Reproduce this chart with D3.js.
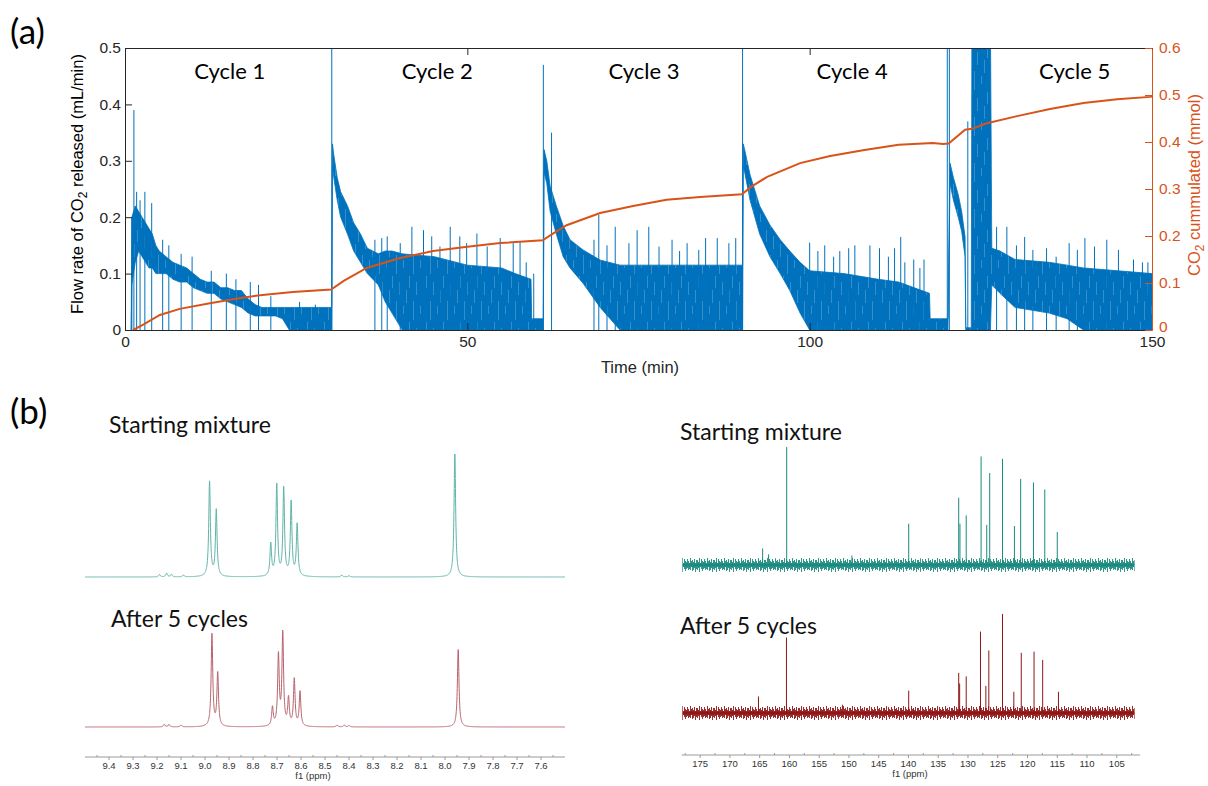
<!DOCTYPE html>
<html>
<head>
<meta charset="utf-8">
<script src="https://cdn.jsdelivr.net/npm/d3@7"></script>
<style>
  body { margin: 0; background: #fff; }
  svg { display: block; }
</style>
</head>
<body>
<svg id="fig" width="1208" height="786"></svg>
<script>
// ---------- (a) flow rate / cumulated CO2 ----------
const cycleNames = ['Cycle 1', 'Cycle 2', 'Cycle 3', 'Cycle 4', 'Cycle 5'];
const cycleLabelT = [15.3, 45.6, 75.8, 106.2, 138.7];
const timeTicks = [0, 50, 100, 150];
const flowTicks = [0, 0.1, 0.2, 0.3, 0.4, 0.5];
const cumTicks = [0, 0.1, 0.2, 0.3, 0.4, 0.5, 0.6];

// blue flow rate: noisy band read as low / high envelope
const flowT  = [0.9, 1.0, 1.5, 2.0, 2.5, 3.0, 3.5, 4.0, 4.5, 5, 6, 7, 8, 9, 10, 11, 12, 13, 14, 15, 16, 17, 18, 19, 20, 22, 23, 24, 26, 28, 30.1,
                30.2, 30.3, 30.5, 31, 31.5, 32.5, 33.4, 34.4, 35.4, 37, 38, 39, 40.5, 45.2, 50, 55, 57, 59.3, 59.4, 61.0,
                61.1, 61.2, 61.6, 62.1, 63, 64, 65, 66.9, 69.4, 72.3, 80, 90.1,
                90.2, 90.3, 90.5, 91.3, 92.7, 94.2, 95.7, 97.1, 98.6, 100, 105, 110, 113, 117.5, 117.6, 120.1,
                120.2, 120.5, 121, 121.7, 122.2, 122.7, 122.8, 123.6, 123.7, 126.4, 126.6, 127.8, 130, 135, 137.6, 140, 145, 150];
const flowLo = [0, 0.08, 0.12, 0.14, 0.13, 0.12, 0.11, 0.11, 0.1, 0.1, 0.1, 0.09, 0.085, 0.085, 0.075, 0.07, 0.065, 0.065, 0.055, 0.05, 0.045, 0.04, 0.03, 0.025, 0.025, 0.025, 0.02, 0, 0, 0, 0,
                0, 0.29, 0.27, 0.23, 0.2, 0.17, 0.14, 0.12, 0.1, 0.08, 0.05, 0.03, 0, 0, 0, 0, 0, 0, 0, 0,
                0, 0.28, 0.26, 0.21, 0.17, 0.13, 0.11, 0.083, 0.04, 0, 0, 0,
                0, 0.29, 0.28, 0.23, 0.17, 0.13, 0.1, 0.07, 0.03, 0, 0, 0, 0, 0, 0, 0,
                0, 0.26, 0.23, 0.2, 0.175, 0.13, 0, 0, 0, 0, 0.08, 0.065, 0.04, 0.03, 0.02, 0, 0, 0];
const flowHi = [0, 0.2, 0.22, 0.21, 0.2, 0.19, 0.18, 0.17, 0.15, 0.14, 0.13, 0.12, 0.115, 0.11, 0.1, 0.09, 0.085, 0.085, 0.075, 0.075, 0.07, 0.07, 0.055, 0.045, 0.04, 0.04, 0.04, 0.04, 0.04, 0.04, 0.04,
                0.04, 0.33, 0.31, 0.27, 0.245, 0.22, 0.19, 0.17, 0.145, 0.135, 0.14, 0.14, 0.135, 0.13, 0.115, 0.11, 0.1, 0.09, 0.02, 0.02,
                0.02, 0.32, 0.3, 0.255, 0.22, 0.185, 0.16, 0.142, 0.124, 0.115, 0.115, 0.115,
                0.115, 0.33, 0.32, 0.275, 0.22, 0.186, 0.16, 0.14, 0.12, 0.105, 0.1, 0.09, 0.085, 0.065, 0.02, 0.02,
                0.02, 0.296, 0.27, 0.24, 0.21, 0.165, 0.004, 0.004, 0.55, 0.55, 0.145, 0.14, 0.125, 0.12, 0.115, 0.11, 0.105, 0.1];
// isolated spikes of the flow trace
const spikeT = [1.0, 1.3, 1.7, 2.2, 2.9, 3.9, 5.5, 6.4, 8.2, 9.8, 12.6, 14.8, 16.2, 18.3, 19.5, 21.3, 25.5, 27.8,
                30.2, 36.5, 37.5, 38.3, 40.2, 41.9, 43.6, 44.8, 46, 47.5, 48.9, 49.9, 51.4, 52.9, 54.8, 56.7, 57.7, 58.6, 59.7,
                61.1, 62.3, 68.5, 69.2, 70.4, 71.6, 73.6, 74.8, 76.5, 78, 79.9, 81.0, 82.1, 83.8, 84.8, 86.5, 88.2, 89.2,
                90.2, 100, 101.2, 102.2, 103.5, 104.4, 105.7, 106.6, 108.8, 110.2, 111.5, 112.4, 113.3, 113.9, 115.2, 116.1, 116.7,
                120.1, 120.4, 123.1, 127.3, 128.8, 130.2, 131.4, 132.6, 134.6, 136.0, 137.9, 139.1, 140.2, 141.6, 143.4, 145.1, 147.3, 148.6, 149.4];
const spikeV = [0.2, 0.39, 0.245, 0.23, 0.245, 0.225, 0.16, 0.15, 0.135, 0.13, 0.105, 0.1, 0.09, 0.085, 0.08, 0.06, 0.05, 0.045,
                0.55, 0.16, 0.163, 0.166, 0.154, 0.183, 0.177, 0.166, 0.148, 0.183, 0.166, 0.154, 0.171, 0.148, 0.163, 0.154, 0.157, 0.12, 0.1,
                0.47, 0.35, 0.16, 0.204, 0.15, 0.183, 0.154, 0.177, 0.183, 0.148, 0.16, 0.14, 0.154, 0.142, 0.163, 0.163, 0.154, 0.163,
                0.55, 0.155, 0.14, 0.15, 0.13, 0.14, 0.145, 0.15, 0.15, 0.145, 0.13, 0.145, 0.165, 0.12, 0.125, 0.11, 0.125,
                0.55, 0.55, 0.37, 0.183, 0.183, 0.15, 0.165, 0.142, 0.145, 0.13, 0.154, 0.142, 0.163, 0.148, 0.16, 0.142, 0.125, 0.12, 0.12];

// orange cumulated CO2 (mmol)
const cumT = [1.2, 2.6, 5.1, 8, 12.4, 16, 19.7, 24.5, 30.1, 32, 35.3, 40.2, 45, 50, 54.8, 61, 62.5, 64.5, 69.4, 74.2, 79.1, 84, 90.1,
              91.5, 93.8, 98.6, 103, 108, 113, 118, 119.5, 120.3, 122.7, 123.7, 125.9, 130.3, 135.1, 140, 144.9, 149.7, 150];
const cumV = [0, 0.011, 0.032, 0.045, 0.057, 0.066, 0.074, 0.081, 0.086, 0.105, 0.132, 0.153, 0.168, 0.177, 0.185, 0.191, 0.205, 0.223, 0.249, 0.264, 0.277, 0.283, 0.289,
              0.305, 0.326, 0.355, 0.37, 0.383, 0.394, 0.398, 0.396, 0.397, 0.426, 0.428, 0.44, 0.455, 0.47, 0.483, 0.491, 0.496, 0.497];

// ---------- (b) NMR spectra ----------
const hTicks = [9.4, 9.3, 9.2, 9.1, 9.0, 8.9, 8.8, 8.7, 8.6, 8.5, 8.4, 8.3, 8.2, 8.1, 8.0, 7.9, 7.8, 7.7, 7.6];
const cTicks = [175, 170, 165, 160, 155, 150, 145, 140, 135, 130, 125, 120, 115, 110, 105];

// 1H peaks: ppm and relative intensity
const hStartPpm = [9.19, 9.16, 9.14, 9.09, 8.981, 8.953, 8.726, 8.701, 8.672, 8.641, 8.616, 8.43, 8.40, 7.959];
const hStartInt = [2, 3, 2, 1.5, 77, 54, 26, 74, 71, 60, 42, 1.5, 1, 100];
const hAfterPpm = [9.17, 9.15, 9.10, 8.971, 8.947, 8.719, 8.694, 8.676, 8.652, 8.628, 8.604, 8.45, 8.42, 8.40, 7.945];
const hAfterInt = [2, 2, 1.5, 75, 43, 15, 57, 75, 22, 38, 28, 1.5, 1.5, 1.2, 63];

// 13C lines: ppm and relative intensity
const cStartPpm = [164.5, 163.5, 160.46, 149.5, 139.96, 131.56, 131.35, 130.3, 127.8, 126.85, 126.35, 124.2, 122.2, 121.15, 119.0, 117.1, 115.0];
const cStartInt = [14, 9, 100, 8, 35, 57, 35, 42, 92, 34, 78, 90, 33, 73, 70, 64, 28];
const cAfterPpm = [165.2, 160.5, 151.1, 139.96, 131.56, 131.4, 130.3, 127.9, 127.0, 126.5, 124.2, 122.3, 121.05, 118.9, 117.45, 114.8];
const cAfterInt = [14, 64, 7, 19, 34, 25, 31, 69, 23, 53, 84, 18, 51, 52, 45, 18];

// 13C baseline noise half-width, read every 4 ppm
const noisePpm   = [178, 174, 170, 166, 162, 158, 154, 150, 146, 142, 138, 134, 130, 126, 122, 118, 114, 110, 106, 102];
const noiseStart = [5.5, 5, 5.5, 5, 4.5, 5, 5.5, 5, 5.5, 5, 4.5, 5, 5.5, 5.5, 5, 5, 5.5, 5, 5.5, 6];
const noiseAfter = [5, 5.5, 5, 5.5, 5, 5.5, 5.5, 5, 5.5, 5, 5, 5.5, 6, 5.5, 5.5, 5, 5.5, 5.5, 5, 6];

const BLUE = '#0072BD', ORANGE = '#D95319';
const svg = d3.select('#fig');
const defs = svg.append('defs');
const sans = 'Liberation Sans, Arial, sans-serif';
const cal = 'Lato, Open Sans, sans-serif';

// faint hairline texture for the dense blue band
const bandTex = defs.append('pattern').attr('id', 'bandTex').attr('patternUnits', 'userSpaceOnUse')
  .attr('width', 17).attr('height', 46);
bandTex.append('rect').attr('width', 17).attr('height', 46).attr('fill', BLUE);
[[1.5, 0, 12], [5.5, 25, 44], [8.5, 6, 19], [12.5, 30, 38], [15.5, 14, 27]].forEach(s =>
  bandTex.append('line').attr('x1', s[0]).attr('x2', s[0]).attr('y1', s[1]).attr('y2', s[2])
    .attr('stroke', '#fff').attr('stroke-opacity', 0.3).attr('stroke-width', 0.7));

// ===== panel (a) =====
const x = d3.scaleLinear().domain([0, 150]).range([125, 1152]);
const yL = d3.scaleLinear().domain([0, 0.5]).range([330, 48]);
const yR = d3.scaleLinear().domain([0, 0.6]).range([330, 48]);
const fmt = d => d === 0 ? '0' : d3.format('.1f')(d);

defs.append('clipPath').attr('id', 'plotclip')
  .append('rect').attr('x', 125).attr('y', 48).attr('width', 1027).attr('height', 282);

const plot = svg.append('g').attr('clip-path', 'url(#plotclip)');
const idx = d3.range(flowT.length);
plot.append('path')
  .attr('d', d3.area().x(i => x(flowT[i])).y0(i => yL(flowLo[i])).y1(i => yL(flowHi[i]))(idx))
  .attr('fill', 'url(#bandTex)').attr('stroke', BLUE).attr('stroke-width', 0.8);
plot.selectAll('line.spike').data(d3.range(spikeT.length)).join('line')
  .attr('class', 'spike')
  .attr('x1', i => x(spikeT[i])).attr('x2', i => x(spikeT[i]))
  .attr('y1', yL(0)).attr('y2', i => yL(spikeV[i]))
  .attr('stroke', BLUE).attr('stroke-width', 1);
plot.append('path')
  .attr('d', d3.line().x(i => x(cumT[i])).y(i => yR(cumV[i]))(d3.range(cumT.length)))
  .attr('fill', 'none').attr('stroke', ORANGE).attr('stroke-width', 2);

// axes
const axStyle = g => {
  g.selectAll('text').attr('font-family', sans).attr('font-size', 15.5);
};
svg.append('g').attr('transform', 'translate(0,330)')
  .call(d3.axisBottom(x).tickValues(timeTicks).tickSize(-7).tickSizeOuter(0).tickPadding(6))
  .call(axStyle).call(g => g.selectAll('line,path').attr('stroke', '#262626'))
  .call(g => g.selectAll('text').attr('fill', '#262626'));
svg.append('g').attr('transform', 'translate(0,48)')
  .call(d3.axisTop(x).tickValues(timeTicks).tickSize(-7).tickSizeOuter(0).tickFormat(''))
  .call(g => g.selectAll('line,path').attr('stroke', '#262626'));
svg.append('g').attr('transform', 'translate(125,0)')
  .call(d3.axisLeft(yL).tickValues(flowTicks).tickFormat(fmt).tickSize(-7).tickSizeOuter(0).tickPadding(4))
  .call(axStyle).call(g => g.selectAll('line,path').attr('stroke', '#262626'))
  .call(g => g.selectAll('text').attr('fill', '#262626'));
svg.append('g').attr('transform', 'translate(1152,0)')
  .call(d3.axisRight(yR).tickValues(cumTicks).tickFormat(fmt).tickSize(-7).tickSizeOuter(0).tickPadding(7))
  .call(axStyle).call(g => g.selectAll('line,path').attr('stroke', ORANGE))
  .call(g => g.selectAll('text').attr('fill', ORANGE))
  .call(g => g.selectAll('.tick').filter(d => d === 0).select('text').attr('dy', '0.12em'));

svg.append('text').attr('x', 640).attr('y', 373).attr('text-anchor', 'middle')
  .attr('font-family', sans).attr('font-size', 16.5).attr('fill', '#262626').text('Time (min)');

function subLabel(cx, cy, parts, color) {
  const t = svg.append('text').attr('transform', `translate(${cx},${cy}) rotate(-90)`)
    .attr('text-anchor', 'middle').attr('font-family', sans).attr('font-size', 16.5).attr('fill', color);
  t.append('tspan').text(parts[0]);
  t.append('tspan').attr('dy', 4).attr('font-size', 12).text('2');
  t.append('tspan').attr('dy', -4).text(parts[1]);
}
subLabel(83, 184, ['Flow rate of CO', ' released (mL/min)'], '#000');
subLabel(1200, 185, ['CO', ' cummulated (mmol)'], ORANGE);

svg.selectAll('text.cyc').data(cycleNames).join('text').attr('class', 'cyc')
  .attr('x', (d, i) => x(cycleLabelT[i])).attr('y', 79).attr('text-anchor', 'middle')
  .attr('font-family', cal).attr('font-size', 22).attr('fill', '#000').text(d => d);

svg.append('text').attr('x', 10).attr('y', 44).attr('font-family', cal).attr('font-size', 35).text('(a)');
svg.append('text').attr('x', 10).attr('y', 424).attr('font-family', cal).attr('font-size', 35).text('(b)');

// ===== panel (b) left: 1H =====
const xH = d3.scaleLinear().domain([9.5, 7.5]).range([85, 565]);
const yHs = d3.scaleLinear().domain([0, 100]).range([577, 454]);
const yHa = d3.scaleLinear().domain([0, 100]).range([727, 604]);
const hw = 0.004;
const hGrid = d3.range(9.5, 7.4995, -0.0005);
function lorentz(ppms, ints) {
  return hGrid.map(p => {
    let s = 0;
    for (let k = 0; k < ppms.length; k++) {
      const u = (p - ppms[k]) / hw;
      s += ints[k] / (1 + u * u);
    }
    return [p, s];
  });
}
svg.append('path').attr('d', d3.line().x(d => xH(d[0])).y(d => yHs(d[1]))(lorentz(hStartPpm, hStartInt)))
  .attr('fill', 'none').attr('stroke', '#5fb3a8').attr('stroke-width', 1);
svg.append('path').attr('d', d3.line().x(d => xH(d[0])).y(d => yHa(d[1]))(lorentz(hAfterPpm, hAfterInt)))
  .attr('fill', 'none').attr('stroke', '#b8626c').attr('stroke-width', 1);

function nmrAxis(scale, y, ticks, minor, labelX, tf) {
  const g = svg.append('g').attr('transform', `translate(0,${y})`);
  g.append('line').attr('x1', scale.range()[0]).attr('x2', scale.range()[1])
    .attr('stroke', '#9a9a9a').attr('stroke-width', 1);
  g.selectAll('line.mn').data(minor).join('line').attr('class', 'mn')
    .attr('x1', d => scale(d)).attr('x2', d => scale(d)).attr('y1', -2).attr('y2', 0)
    .attr('stroke', '#9a9a9a');
  g.selectAll('line.mj').data(ticks).join('line').attr('class', 'mj')
    .attr('x1', d => scale(d)).attr('x2', d => scale(d)).attr('y1', 0).attr('y2', 3)
    .attr('stroke', '#9a9a9a');
  g.selectAll('text.tl').data(ticks).join('text').attr('class', 'tl')
    .attr('x', d => scale(d)).attr('y', 11.5).attr('text-anchor', 'middle')
    .attr('font-family', sans).attr('font-size', 9.5).attr('fill', '#333')
    .text(tf);
  g.append('text').attr('x', labelX).attr('y', 21.5).attr('text-anchor', 'middle')
    .attr('font-family', sans).attr('font-size', 9.5).attr('fill', '#333').text('f1 (ppm)');
}
nmrAxis(xH, 757, hTicks, hTicks.map(d => d - 0.05).concat([9.45]), 313, d => d.toFixed(1));

// ===== panel (b) right: 13C =====
const xC = d3.scaleLinear().domain([178.1, 101.1]).range([681.7, 1140]);
const yCs = d3.scaleLinear().domain([0, 100]).range([565, 447]);
const yCa = d3.scaleLinear().domain([0, 100]).range([713, 595]);

// hairline texture for the noisy 13C baseline, centred on that baseline
function noiseTexture(id, color, baseY) {
  const p = defs.append('pattern').attr('id', id).attr('patternUnits', 'userSpaceOnUse')
    .attr('width', 17).attr('height', 16).attr('patternTransform', `translate(0,${baseY - 8})`);
  [[0.5, 3, 13], [1.5, 5, 11], [2.5, 1, 15], [3.5, 6, 10], [4.5, 2, 12], [5.5, 4, 14],
   [6.5, 5, 12], [7.5, 2, 11], [8.5, 4, 13], [9.5, 6, 12], [10.5, 1, 13], [11.5, 4, 10],
   [12.5, 3, 14], [13.5, 5, 13], [14.5, 2, 11], [15.5, 6, 15], [16.5, 3, 12]].forEach(s =>
    p.append('line').attr('x1', s[0]).attr('x2', s[0]).attr('y1', s[1]).attr('y2', s[2])
      .attr('stroke', color).attr('stroke-width', 0.9));
  p.append('line').attr('x1', 0).attr('x2', 17).attr('y1', 8).attr('y2', 8)
    .attr('stroke', color).attr('stroke-width', 3);
}

function c13(id, yS, ppms, ints, amps, color) {
  const g = svg.append('g');
  noiseTexture(id, color, yS(0));
  const nIdx = d3.range(noisePpm.length);
  g.append('path')
    .attr('d', d3.area()
      .x(i => xC(noisePpm[i])).y0(i => yS(-amps[i] * 1.25)).y1(i => yS(amps[i] * 1.25))(nIdx))
    .attr('fill', `url(#${id})`);
  g.selectAll('line').data(d3.range(ppms.length)).join('line')
    .attr('x1', i => xC(ppms[i])).attr('x2', i => xC(ppms[i]))
    .attr('y1', yS(0)).attr('y2', i => yS(ints[i]))
    .attr('stroke', color).attr('stroke-width', 1);
}
c13('noiseA', yCs, cStartPpm, cStartInt, noiseStart, '#1a8a7f');
c13('noiseB', yCa, cAfterPpm, cAfterInt, noiseAfter, '#8e1616');
nmrAxis(xC, 755, cTicks, cTicks.map(d => d + 2.5).concat([102.5]), 910, d => String(d));

// sample labels
const sampleLabels = [
  { t: 'Starting mixture', x: 109, y: 433 },
  { t: 'After 5 cycles', x: 111, y: 627 },
  { t: 'Starting mixture', x: 680, y: 440 },
  { t: 'After 5 cycles', x: 680, y: 634 }
];
svg.selectAll('text.smp').data(sampleLabels).join('text').attr('class', 'smp')
  .attr('x', d => d.x).attr('y', d => d.y)
  .attr('font-family', cal).attr('font-size', 23).attr('fill', '#111').text(d => d.t);
</script>
</body>
</html>
